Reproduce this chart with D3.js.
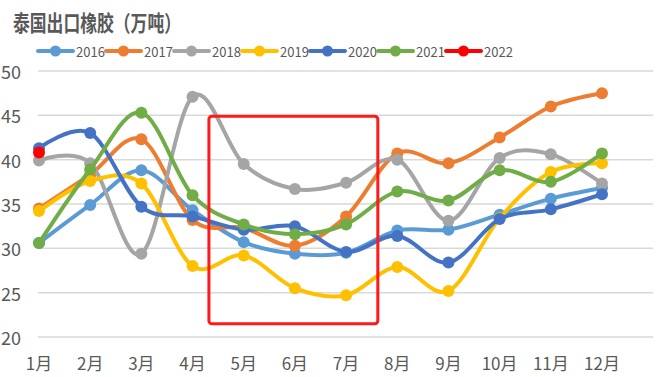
<!DOCTYPE html>
<html>
<head>
<meta charset="utf-8">
<script src="https://cdn.jsdelivr.net/npm/d3@7"></script>
<style>
    body { margin: 0; background: #fff; }
    svg { display: block; }
</style>
</head>
<body>
<svg id="drawing_region"></svg>
<script>
const months = ['1月','2月','3月','4月','5月','6月','7月','8月','9月','10月','11月','12月'];
const yTicks = [20, 25, 30, 35, 40, 45, 50];
const years = ['2016','2017','2018','2019','2020','2021','2022'];

const v2016 = [30.6, 34.9, 38.8, 34.3, 30.7, 29.4, 29.5, 32.0, 32.1, 33.8, 35.6, 36.8];
const v2017 = [34.5, 38.3, 42.3, 33.2, 32.3, 30.3, 33.6, 40.7, 39.6, 42.5, 46.0, 47.5];
const v2018 = [39.9, 39.6, 29.4, 47.1, 39.5, 36.7, 37.4, 40.0, 33.1, 40.2, 40.6, 37.3];
const v2019 = [34.2, 37.6, 37.3, 28.0, 29.2, 25.5, 24.7, 27.9, 25.2, 33.4, 38.6, 39.6];
const v2020 = [41.3, 43.0, 34.7, 33.6, 32.1, 32.5, 29.6, 31.4, 28.4, 33.3, 34.4, 36.1];
const v2021 = [30.6, 38.9, 45.3, 36.0, 32.7, 31.6, 32.7, 36.4, 35.4, 38.8, 37.5, 40.7];
const v2022 = [40.8];

// highlighted period: month index range and value range
const boxMonths = [3.32, 6.62];
const boxValues = [21.5, 44.9];

const colors = ['#5B9BD5', '#ED7D31', '#A5A5A5', '#FFC000', '#4472C4', '#70AD47', '#FF0000'];

const series = [v2016, v2017, v2018, v2019, v2020, v2021, v2022].map( (vals, i) => ({
    name: years[i],
    color: colors[i],
    values: vals.map( (v, j) => ({ month: months[j], value: v }) )
}));

class LineChart {

    constructor( config, data ) {
        this.config = {
            parent: config.parent,
            width: config.width || 663,
            height: config.height || 377,
        }
        this.data = data;
        this.init();
    }

    init() {
        let self = this;

        self.svg = d3.select( self.config.parent )
            .attr('width', self.config.width)
            .attr('height', self.config.height);

        self.xscale = d3.scalePoint()
            .domain(months)
            .range([39, 602]);

        self.yscale = d3.scaleLinear()
            .domain([20, 50])
            .range([337, 71]);

        // gridlines
        self.svg.append('g')
            .selectAll('line')
            .data(yTicks)
            .join('line')
            .attr('x1', 38)
            .attr('x2', 653)
            .attr('y1', d => self.yscale(d))
            .attr('y2', d => self.yscale(d))
            .attr('stroke', '#d9d9d9')
            .attr('stroke-width', 1.5);

        // y labels
        self.svg.append('g')
            .selectAll('text')
            .data(yTicks)
            .join('text')
            .attr('x', 21)
            .attr('y', d => self.yscale(d))
            .attr('text-anchor', 'end')
            .attr('dominant-baseline', 'central')
            .attr('font-family', '"Noto Sans CJK SC", "Noto Sans", sans-serif')
            .attr('font-size', '18px')
            .attr('fill', '#595959')
            .text(d => d);

        // x labels
        self.svg.append('g')
            .selectAll('text')
            .data(months)
            .join('text')
            .attr('x', d => self.xscale(d))
            .attr('y', 362)
            .attr('text-anchor', 'middle')
            .attr('dominant-baseline', 'central')
            .attr('font-family', '"Noto Sans CJK SC", sans-serif')
            .attr('font-size', '17px')
            .attr('fill', '#595959')
            .text(d => d);

        // title
        self.svg.append('text')
            .attr('x', 13)
            .attr('y', 31)
            .attr('font-family', '"Noto Sans CJK SC", sans-serif')
            .attr('font-weight', 'bold')
            .attr('font-size', '22px')
            .attr('fill', '#595959')
            .attr('textLength', 168)
            .attr('lengthAdjust', 'spacingAndGlyphs')
            .text('泰国出口橡胶（万吨）');

        // legend
        const legend = self.svg.append('g')
            .selectAll('g')
            .data(self.data)
            .join('g')
            .attr('transform', (d, i) => `translate(${38 + i * 68}, 51)`);

        legend.append('line')
            .attr('x1', 0)
            .attr('x2', 35)
            .attr('stroke', d => d.color)
            .attr('stroke-width', 4)
            .attr('stroke-linecap', 'round');

        legend.append('circle')
            .attr('cx', 17.5)
            .attr('r', 5.5)
            .attr('fill', d => d.color);

        legend.append('text')
            .attr('x', 38)
            .attr('dominant-baseline', 'central')
            .attr('font-family', '"Noto Sans CJK SC", sans-serif')
            .attr('font-size', '13px')
            .attr('fill', '#595959')
            .text(d => d.name);

        self.chart = self.svg.append('g');
    }

    update() {
        let self = this;
        self.render();
    }

    render() {
        let self = this;

        const line = d3.line()
            .x( d => self.xscale(d.month) )
            .y( d => self.yscale(d.value) )
            .curve( d3.curveCardinal.tension(0) );

        const groups = self.chart.selectAll('g.series')
            .data(self.data)
            .join('g')
            .attr('class', 'series');

        groups.append('path')
            .attr('d', d => line(d.values))
            .attr('fill', 'none')
            .attr('stroke', d => d.color)
            .attr('stroke-width', 4)
            .attr('stroke-linejoin', 'round')
            .attr('stroke-linecap', 'round');

        groups.selectAll('circle')
            .data(d => d.values.map(p => ({ ...p, color: d.color })))
            .join('circle')
            .attr('cx', d => self.xscale(d.month))
            .attr('cy', d => self.yscale(d.value))
            .attr('r', 6)
            .attr('fill', d => d.color);

        // highlight box
        const step = self.xscale.step();
        const x0 = self.xscale(months[0]);
        self.svg.append('rect')
            .attr('x', x0 + boxMonths[0] * step)
            .attr('y', self.yscale(boxValues[1]))
            .attr('width', (boxMonths[1] - boxMonths[0]) * step)
            .attr('height', self.yscale(boxValues[0]) - self.yscale(boxValues[1]))
            .attr('rx', 3)
            .attr('fill', 'none')
            .attr('stroke', '#FF1A1A')
            .attr('stroke-width', 3);
    }
}

const config = {
    parent: '#drawing_region',
    width: 663,
    height: 377
};

const linechart = new LineChart( config, series );
linechart.update();
</script>
</body>
</html>
